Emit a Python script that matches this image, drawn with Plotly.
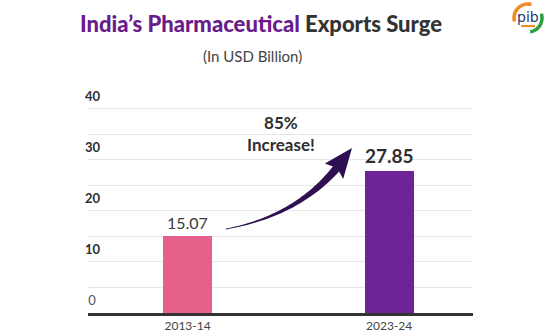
import numpy as np
import plotly.graph_objects as go

# Export values, USD billion
years = ["2013-14", "2023-24"]
exports = [15.07, 27.85]
bar_colors = ["#E6618A", "#6C2496"]
y_ticks = [0, 10, 20, 30, 40]

W, H = 558, 336
ML, MR, MT, MB = 88, 85, 83, 23
PW, PH = W - ML - MR, H - MT - MB

FONT = "Lato"
DARK = "#2f2f2f"


def px(x, y):
    """Convert page pixels to paper coordinates of the plot area."""
    return (x - ML) / PW, (H - MB - y) / PH


def note(x, y, text, **font):
    a, b = px(x, y)
    fig.add_annotation(x=a, y=b, xref="paper", yref="paper", text=text,
                       showarrow=False, xanchor="center", yanchor="middle",
                       align="center", font=font)


fig = go.Figure()
fig.add_trace(go.Bar(
    x=[0, 1], y=exports, width=0.243,
    marker=dict(color=bar_colors, line=dict(width=0)),
    hoverinfo="skip",
))

# y tick labels sit just above their grid lines, flush with the left edge
label_x = px(83, 0)[0]
for v in y_ticks:
    fig.add_annotation(x=label_x, y=v, xref="paper", yref="y",
                       text=f"<b>{v}</b>" if v else f" {v}",
                       showarrow=False, xanchor="left", yanchor="bottom", yshift=3,
                       font=dict(family=FONT, size=13, color=DARK if v else "#555555"))

# value labels above the bars
fig.add_annotation(x=0, y=exports[0], xref="x", yref="y", text=f"{exports[0]:.2f}",
                   showarrow=False, yanchor="bottom", yshift=2,
                   font=dict(family=FONT, size=16, color="#3a3a3a"))
fig.add_annotation(x=1, y=exports[1], xref="x", yref="y", text=f"<b>{exports[1]:.2f}</b>",
                   showarrow=False, yanchor="bottom", yshift=2,
                   font=dict(family=FONT, size=19, color=DARK))

# growth call-out
growth = round((exports[1] / exports[0] - 1) * 100)
note(281, 133, f"<b>{growth}%<br>Increase!</b>", family=FONT, size=17, color=DARK)

# tapered curved arrow (quadratic Bezier centre line)
S = np.array([226.0, 229.0])
C = np.array([296.0, 216.0])
E = np.array([336.0, 169.0])
t = np.linspace(0, 1, 40)
pts = ((1 - t)[:, None] ** 2) * S + (2 * (1 - t) * t)[:, None] * C + (t[:, None] ** 2) * E
d = 2 * (1 - t)[:, None] * (C - S) + 2 * t[:, None] * (E - C)
d /= np.linalg.norm(d, axis=1)[:, None]
n = np.stack([-d[:, 1], d[:, 0]], axis=1)
half = 0.4 + 3.6 * t ** 1.3
upper = pts + n * half[:, None]
lower = pts - n * half[:, None]
tip = np.array([352.0, 148.0])
dir_end = d[-1]
nrm_end = n[-1]
head_l = E + nrm_end * 12 - dir_end * 3
head_r = E - nrm_end * 12 - dir_end * 3
outline = list(upper) + [head_l, tip, head_r] + list(lower[::-1])
path = ""
for i, (x, y) in enumerate(outline):
    a, b = px(x, y)
    path += ("M" if i == 0 else "L") + f"{a:.4f},{b:.4f} "
path += "Z"
fig.add_shape(type="path", path=path, xref="paper", yref="paper",
              fillcolor="#2E0F52", line=dict(width=0), layer="above")

# title and subtitle
note(261, 24, "<span style='color:#6A1B8C'>India’s Pharmaceutical</span> Exports Surge",
     family=FONT, size=22, color="#333333", weight=900)
note(252, 56, "(In USD Billion)", family=FONT, size=15, color="#444444")

# small emblem in the top-right corner
cx, cy, r = 528, 18, 14
theta_o = np.linspace(np.pi * 0.42, np.pi * 1.08, 24)
theta_g = np.linspace(-np.pi * 0.45, np.pi * 0.1, 24)
for th, col in ((theta_o, "#F08A24"), (theta_g, "#2E9E3F")):
    p = ""
    for i, a in enumerate(th):
        x, y = px(cx + r * np.cos(a), cy - r * np.sin(a))
        p += ("M" if i == 0 else "L") + f"{x:.4f},{y:.4f} "
    fig.add_shape(type="path", path=p, xref="paper", yref="paper",
                  line=dict(color=col, width=3.5))
note(cx, cy - 1, "pib", family="DejaVu Sans", size=14, color="#1F3A70")
bx0, by0 = px(521, 27)
bx1, by1 = px(535, 25)
fig.add_shape(type="rect", x0=bx0, y0=by0, x1=bx1, y1=by1, xref="paper", yref="paper",
              fillcolor="#F08A24", line=dict(width=0))

fig.update_layout(
    width=W, height=H,
    margin=dict(l=ML, r=MR, t=MT, b=MB, autoexpand=False),
    plot_bgcolor="white", paper_bgcolor="white",
    showlegend=False, bargap=0,
    xaxis=dict(
        range=[-0.494, 1.416], tickvals=[0, 1], ticktext=years,
        showgrid=False, showline=True, linecolor="#333333", linewidth=3,
        ticks="", ticklabelstandoff=0,
        tickfont=dict(family=FONT, size=12, color="#444444"),
        automargin=False, fixedrange=True,
    ),
    yaxis=dict(
        range=[0, 45.05], tickvals=y_ticks, showticklabels=False, ticks="",
        showgrid=True, gridcolor="#E7E7E7", gridwidth=1,
        minor=dict(dtick=5, tick0=0, showgrid=True, gridcolor="#E7E7E7", gridwidth=1),
        zeroline=False, showline=False, automargin=False, fixedrange=True,
    ),
)

fig.write_html("out.html")
